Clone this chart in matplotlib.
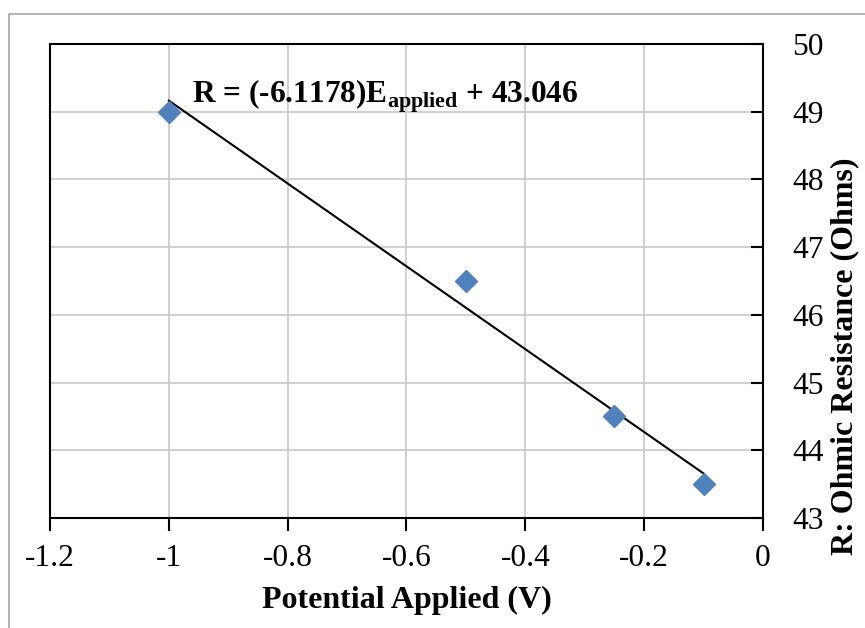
import matplotlib
matplotlib.use("Agg")
import matplotlib.pyplot as plt
from matplotlib.patches import Rectangle
import numpy as np

# Measured ohmic resistance vs. applied potential
potential = [-1.0, -0.5, -0.25, -0.1]
resistance = [49.0, 46.5, 44.5, 43.5]

# Linear trendline coefficients
slope = -6.1178
intercept = 43.046

x_ticks = [-1.2, -1.0, -0.8, -0.6, -0.4, -0.2, 0.0]
x_tick_labels = ["-1.2", "-1", "-0.8", "-0.6", "-0.4", "-0.2", "0"]
y_ticks = [43, 44, 45, 46, 47, 48, 49, 50]

plt.rcParams["font.family"] = ["Liberation Serif", "DejaVu Serif"]
plt.rcParams["mathtext.fontset"] = "custom"
plt.rcParams["mathtext.rm"] = "Liberation Serif"
plt.rcParams["mathtext.bf"] = "Liberation Serif:bold"

W, H = 865, 628
fig = plt.figure(figsize=(W / 100, H / 100), dpi=100)

# outer chart frame
fig.patches.append(Rectangle((9 / W, -0.05), 1.1, (H - 14) / H + 0.05,
                             transform=fig.transFigure, fill=False,
                             edgecolor="#a6a6a6", linewidth=1.2))

left, right, top, bottom = 50, 763, 44, 518
ax = fig.add_axes([left / W, (H - bottom) / H, (right - left) / W, (bottom - top) / H])

ax.set_xlim(-1.2, 0)
ax.set_ylim(43, 50)
ax.set_xticks(x_ticks)
ax.set_xticklabels(x_tick_labels)
ax.set_yticks(y_ticks)

ax.grid(True, color="#c8c8c8", linewidth=1.2)
ax.set_axisbelow(True)

for s in ax.spines.values():
    s.set_linewidth(1.5)
    s.set_color("black")

ax.yaxis.tick_right()
ax.tick_params(axis="x", direction="out", length=9, width=1.5, labelsize=22.7, pad=10)
ax.tick_params(axis="y", direction="in", length=9, width=1.5, labelsize=22.7, pad=21,
               right=True, left=False)

# trendline over the data range
xs = np.array([min(potential), max(potential)])
ax.plot(xs, slope * xs + intercept, color="black", linewidth=1.5, zorder=3)

ax.plot(potential, resistance, linestyle="none", marker="D", markersize=11.5,
        color="#4f81bd", markeredgecolor="#4f81bd", zorder=4, clip_on=False)

ax.text((192 - left) / (right - left), (bottom - 103) / (bottom - top),
        r"R = (-6.1178)E$_{\mathbf{applied}}$ + 43.046",
        transform=ax.transAxes, fontsize=22.6, fontweight="bold",
        ha="left", va="baseline")

fig.text(407 / W, 1 - 600 / H, "Potential Applied (V)", fontsize=23,
         fontweight="bold", ha="center", va="center")
fig.text(845 / W, 1 - 356 / H, "R: Ohmic Resistance (Ohms)", fontsize=23,
         fontweight="bold", ha="center", va="center", rotation=90)

fig.savefig("out.png", dpi=100)
